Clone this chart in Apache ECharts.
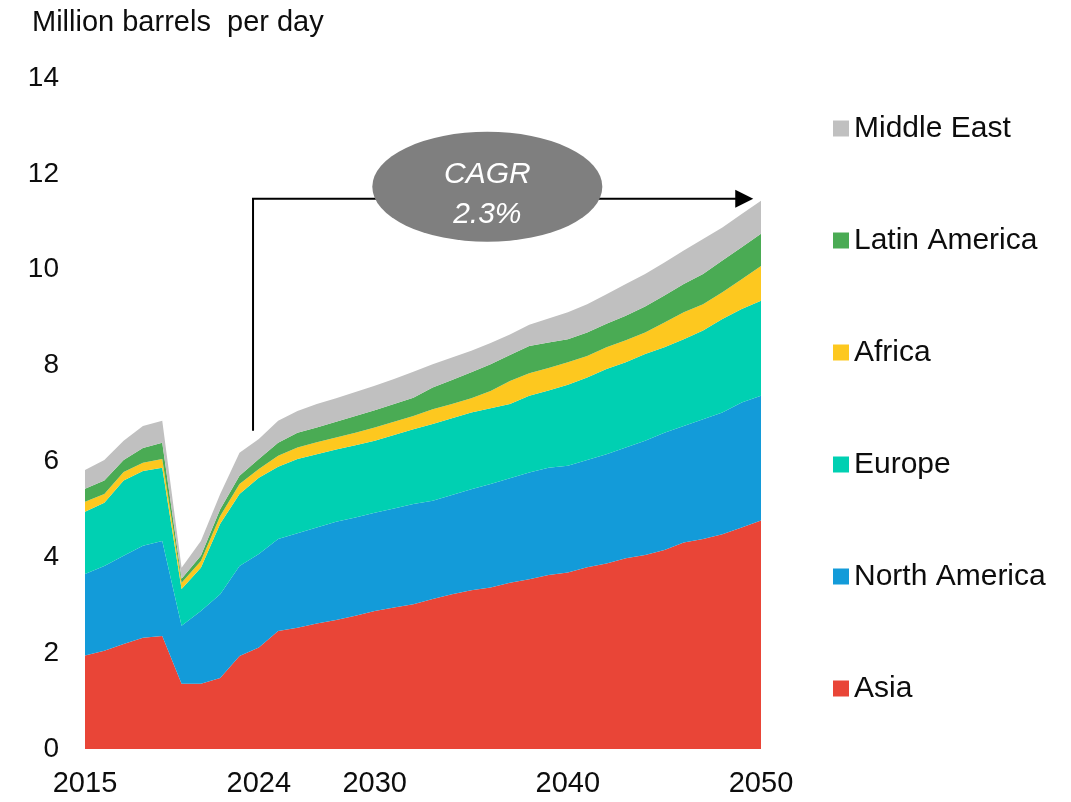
<!DOCTYPE html>
<html>
<head>
<meta charset="utf-8">
<script src="https://cdn.jsdelivr.net/npm/echarts@6.0.0/dist/echarts.min.js"></script>
<style>
  html, body { margin: 0; padding: 0; background: #fff; }
  #chart { width: 1071px; height: 802px; }
</style>
</head>
<body>
<div id="chart"></div>
<script>
// oil demand by region, million barrels per day
const years = ['2015','2016','2017','2018','2019','2020','2021','2022','2023','2024',
  '2025','2026','2027','2028','2029','2030','2031','2032','2033','2034',
  '2035','2036','2037','2038','2039','2040','2041','2042','2043','2044',
  '2045','2046','2047','2048','2049','2050'];
const tickLabels = ['2015', '2024', '2030', '2040', '2050'];

const asia = [1.95,2.05,2.19,2.32,2.36,1.36,1.36,1.48,1.94,2.12,
  2.46,2.53,2.62,2.69,2.78,2.88,2.95,3.02,3.13,3.23,
  3.31,3.37,3.47,3.54,3.63,3.68,3.79,3.87,3.98,4.05,
  4.15,4.31,4.38,4.48,4.62,4.77];
const northAmerica = [1.70,1.77,1.84,1.92,1.98,1.21,1.52,1.75,1.88,1.95,
  1.92,1.97,2.00,2.05,2.05,2.05,2.07,2.09,2.05,2.07,
  2.11,2.16,2.18,2.23,2.24,2.23,2.24,2.28,2.31,2.38,
  2.45,2.43,2.50,2.54,2.61,2.60];
const europe = [1.30,1.32,1.57,1.56,1.53,0.77,0.90,1.47,1.50,1.59,
  1.51,1.55,1.53,1.51,1.51,1.50,1.53,1.56,1.60,1.60,
  1.60,1.58,1.55,1.60,1.61,1.69,1.72,1.78,1.78,1.81,
  1.78,1.81,1.85,1.95,1.95,1.98];
const africa = [0.21,0.18,0.18,0.17,0.18,0.13,0.14,0.16,0.21,0.18,
  0.23,0.24,0.25,0.25,0.26,0.28,0.28,0.28,0.31,0.30,
  0.30,0.36,0.48,0.47,0.47,0.47,0.45,0.45,0.46,0.45,
  0.52,0.56,0.55,0.56,0.62,0.73];
const latinAmerica = [0.27,0.28,0.25,0.31,0.34,0.08,0.11,0.14,0.17,0.21,
  0.27,0.31,0.31,0.33,0.35,0.36,0.37,0.38,0.45,0.50,
  0.54,0.56,0.54,0.57,0.53,0.48,0.49,0.49,0.51,0.54,
  0.56,0.59,0.63,0.66,0.67,0.67];
const middleEast = [0.39,0.43,0.40,0.46,0.46,0.23,0.31,0.32,0.48,0.42,
  0.46,0.45,0.49,0.49,0.50,0.51,0.52,0.54,0.49,0.47,
  0.45,0.44,0.43,0.44,0.50,0.56,0.59,0.62,0.66,0.68,
  0.69,0.70,0.73,0.69,0.69,0.69];

const FONT = 'Liberation Sans, Arial, sans-serif';
const TXT = '#0d0d0d';

const regions = [
  { name: 'Asia', data: asia, color: '#E94537' },
  { name: 'North America', data: northAmerica, color: '#139BD9' },
  { name: 'Europe', data: europe, color: '#00D0B2' },
  { name: 'Africa', data: africa, color: '#FDC81F' },
  { name: 'Latin America', data: latinAmerica, color: '#4AAB54' },
  { name: 'Middle East', data: middleEast, color: '#C0C0C0' }
];

const option = {
  animation: false,
  backgroundColor: '#fff',
  title: {
    text: 'Million barrels  per day',
    left: 27, top: 3,
    textStyle: { fontFamily: FONT, fontSize: 29, fontWeight: 'normal', color: TXT }
  },
  legend: {
    orient: 'vertical',
    left: 828, top: 108,
    itemWidth: 16, itemHeight: 16, itemGap: 81,
    icon: 'rect',
    data: ['Middle East', 'Latin America', 'Africa', 'Europe', 'North America', 'Asia'],
    textStyle: { fontFamily: FONT, fontSize: 30, color: TXT, lineHeight: 31 }
  },
  grid: { left: 85, right: 310, top: 78, bottom: 53 },
  xAxis: {
    type: 'category',
    boundaryGap: false,
    data: years,
    axisLine: { show: false },
    axisTick: { show: false },
    axisLabel: {
      interval: (i, v) => tickLabels.includes(v),
      fontFamily: FONT, fontSize: 29, color: TXT, margin: 20
    }
  },
  yAxis: {
    type: 'value',
    min: 0, max: 14, interval: 2,
    axisLine: { show: false },
    axisTick: { show: false },
    splitLine: { show: false },
    axisLabel: { fontFamily: FONT, fontSize: 28, color: TXT, margin: 26 }
  },
  series: regions.map(r => ({
    name: r.name,
    type: 'line',
    stack: 'total',
    data: r.data,
    symbol: 'none',
    color: r.color,
    lineStyle: { width: 0 },
    areaStyle: { color: r.color, opacity: 1 }
  }))
};

const chart = echarts.init(document.getElementById('chart'));
chart.setOption(option);

// CAGR callout, anchored to the axes
const x0 = chart.convertToPixel({ gridIndex: 0 }, [0, 0])[0];
const x1 = chart.convertToPixel({ gridIndex: 0 }, [years.length - 1, 0])[0];
const xAt = i => x0 + (x1 - x0) * i / (years.length - 1);
const yAt = v => chart.convertToPixel({ gridIndex: 0 }, [0, v])[1];

const lx = xAt(8.7), ly0 = yAt(6.64), ly = yAt(11.48);
const ax = xAt(34.6);
const ex = xAt(20.83), ey = yAt(11.73);
const rx = 115, ry = 55;

chart.setOption({
  graphic: [
    {
      type: 'polyline', z: 10,
      shape: { points: [[lx, ly0], [lx, ly], [ax - 14, ly]] },
      style: { stroke: '#000', lineWidth: 2, fill: null }
    },
    {
      type: 'polygon', z: 10,
      shape: { points: [[ax - 18, ly - 9], [ax, ly], [ax - 18, ly + 9]] },
      style: { fill: '#000' }
    },
    {
      type: 'circle', z: 11,
      x: ex, y: ey, scaleX: rx / ry,
      shape: { cx: 0, cy: 0, r: ry },
      style: { fill: '#7F7F7F' }
    },
    {
      type: 'text', z: 12,
      x: ex, y: ey + 8,
      style: {
        text: 'CAGR\n2.3%',
        fill: '#fff',
        font: 'italic 30px ' + FONT,
        lineHeight: 40,
        align: 'center',
        verticalAlign: 'middle'
      }
    }
  ]
});
</script>
</body>
</html>
